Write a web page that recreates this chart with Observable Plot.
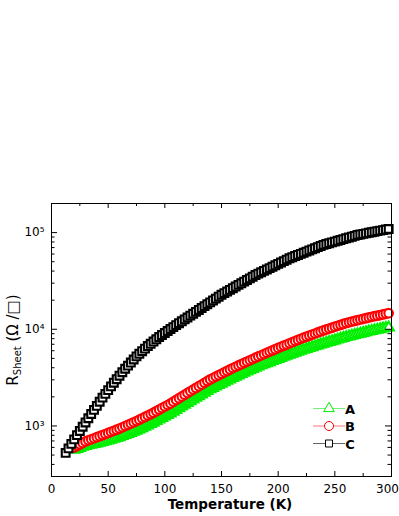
<!DOCTYPE html>
<html>
<head>
<meta charset="utf-8">
<script src="https://cdn.jsdelivr.net/npm/d3@7"></script>
<script src="https://cdn.jsdelivr.net/npm/@observablehq/plot@0.6"></script>
<style>
html,body{margin:0;padding:0;background:#fff;}
#chart svg{display:block;}
</style>
</head>
<body>
<div id="chart"></div>
<script>
// Temperature (K) of each sample
const temperatureK = [12.5,15,17.5,20,22.5,25,27.5,30,32.5,35,37.5,40,42.5,45,47.5,50,52.5,55,57.5,60,62.5,65,67.5,70,72.5,75,77.5,80,82.5,85,87.5,90,92.5,95,97.5,100,102.5,105,107.5,110,112.5,115,117.5,120,122.5,125,127.5,130,132.5,135,137.5,140,142.5,145,147.5,150,152.5,155,157.5,160,162.5,165,167.5,170,172.5,175,177.5,180,182.5,185,187.5,190,192.5,195,197.5,200,202.5,205,207.5,210,212.5,215,217.5,220,222.5,225,227.5,230,232.5,235,237.5,240,242.5,245,247.5,250,252.5,255,257.5,260,262.5,265,267.5,270,272.5,275,277.5,280,282.5,285,287.5,290,292.5,295,297.5];

// Sheet resistance (Ohm/sq) of each sample
const rSheetA = [null,null,null,566,579,593,608,622,630,639,649,659,669,681,694,707,722,736,751,766,786,806,826,847,869,892,919,947,979,1012,1046,1081,1122,1164,1208,1253,1300,1349,1406,1466,1528,1592,1660,1730,1802,1876,1953,2033,2117,2204,2295,2390,2472,2557,2645,2736,2830,2928,3028,3133,3231,3332,3437,3544,3656,3770,3888,4010,4128,4249,4354,4462,4571,4690,4811,4941,5060,5187,5313,5445,5577,5719,5855,6003,6125,6258,6392,6524,6664,6808,6953,7105,7236,7379,7518,7665,7817,7981,8139,8308,8429,8570,8714,8860,9008,9159,9314,9469,9605,9743,9881,10020,10170,10310,10460];

const rSheetB = [null,null,null,600,622,645,668,692,710,728,746,765,784,804,825,847,870,892,916,940,968,998,1028,1059,1091,1123,1161,1201,1241,1283,1326,1372,1423,1476,1531,1589,1648,1710,1782,1858,1937,2020,2105,2194,2285,2379,2476,2578,2684,2795,2910,3030,3134,3242,3354,3469,3588,3712,3839,3972,4096,4224,4357,4494,4634,4779,4929,5084,5233,5387,5547,5710,5878,6053,6231,6415,6593,6775,6962,7155,7353,7557,7766,7981,8182,8389,8600,8818,9040,9268,9502,9743,9958,10180,10400,10640,10870,11110,11360,11610,11810,12010,12210,12410,12620,12830,13040,13260,13450,13650,13840,14040,14240,14450,14660];

const rSheetC = [527,586,652,726,803,888,982,1087,1202,1330,1466,1615,1781,1963,2145,2345,2564,2802,3045,3308,3595,3906,4204,4526,4870,5243,5577,5933,6310,6710,7079,7468,7878,8310,8714,9138,9581,10050,10530,11050,11560,12090,12650,13230,13850,14480,15150,15850,16580,17350,18150,18990,19860,20770,21730,22740,23640,24590,25570,26590,27660,28760,29910,31110,32350,33640,34980,36380,37610,38880,40190,41550,42950,44400,45900,47450,49050,50710,52420,54200,55640,57180,58760,60310,61910,63620,65380,67100,68880,70790,72750,74670,76100,77570,79150,80750,82300,83880,85600,87350,89030,90740,92590,94470,95700,96960,98240,99540,100800,102200,103500,104900,106200,107600,109000];

const seriesNames = ["A", "B", "C"];
const xTicks = [0, 50, 100, 150, 200, 250, 300];
const xMinorTicks = [25, 75, 125, 175, 225, 275];
const yTicks = [1000, 10000, 100000];
const yTickLabels = ["10³", "10⁴", "10⁵"];
const yMinorTicks = [400,500,600,700,800,900,2000,3000,4000,5000,6000,7000,8000,9000,20000,30000,40000,50000,60000,70000,80000,90000];
const xLabel = "Temperature (K)";

// layout & styles
const W = 399, H = 516, mT = 203, mB = 40, mL = 51, mR = 8;
const plotW = W - mL - mR, plotH = H - mT - mB;
const styles = [
  {symbol: "triangle", r: 3.8, stroke: "#00ee00", line: "#77ee77"},
  {symbol: "circle", r: 4.3, stroke: "#ff0000", line: "#ff7777"},
  {symbol: "square", r: 4.4, stroke: "#000000", line: "#666666"}
];

const rows = vals => temperatureK.map((T, i) => ({T, R: vals[i]})).filter(d => d.R != null);
const seriesData = [rows(rSheetA), rows(rSheetB), rows(rSheetC)];

const chart = Plot.plot({
  width: W,
  height: H,
  marginTop: mT,
  marginBottom: mB,
  marginLeft: mL,
  marginRight: mR,
  style: {fontFamily: "DejaVu Sans", fontSize: "12px", background: "white", color: "black"},
  x: {domain: [0, 300]},
  y: {type: "log", domain: [300, 200000]},
  marks: [
    ...seriesData.map((data, k) => Plot.dot(data, {
      x: "T", y: "R", symbol: styles[k].symbol, r: styles[k].r,
      stroke: styles[k].stroke, fill: "white", strokeWidth: 2.1
    })),
    Plot.frame({stroke: "black", strokeWidth: 1}),
    // inward ticks
    Plot.tickX(xTicks, {x: d => d, insetTop: plotH - 5, stroke: "black"}),
    Plot.tickX(xMinorTicks, {x: d => d, insetTop: plotH - 3, stroke: "black"}),
    Plot.tickX(xTicks, {x: d => d, insetBottom: plotH - 5, stroke: "black"}),
    Plot.tickX(xMinorTicks, {x: d => d, insetBottom: plotH - 3, stroke: "black"}),
    Plot.tickY(yTicks, {y: d => d, insetRight: plotW - 6, stroke: "black"}),
    Plot.tickY(yMinorTicks, {y: d => d, insetRight: plotW - 3.5, stroke: "black"}),
    Plot.tickY(yTicks, {y: d => d, insetLeft: plotW - 6, stroke: "black"}),
    Plot.tickY(yMinorTicks, {y: d => d, insetLeft: plotW - 3.5, stroke: "black"}),
    // tick labels
    Plot.axisX({anchor: "bottom", ticks: xTicks.slice(0, -1), tickSize: 0, tickPadding: 8, label: null, tickFormat: d => String(d)}),
    Plot.axisX({anchor: "bottom", ticks: xTicks.slice(-1), tickSize: 0, tickPadding: 8, label: null, dx: -4, tickFormat: d => String(d)}),
    Plot.axisY({anchor: "left", ticks: yTicks, tickSize: 0, tickPadding: 7, label: null, tickFormat: d => yTickLabels[yTicks.indexOf(d)]})
  ]
});

document.getElementById("chart").appendChild(chart);

const svg = d3.select(chart);

// x axis title
svg.append("text")
  .attr("x", 230).attr("y", 509)
  .attr("text-anchor", "middle")
  .attr("font-family", "DejaVu Sans").attr("font-weight", "bold").attr("font-size", 13.5)
  .attr("fill", "black")
  .text(xLabel);

// y axis title with subscript
const yt = svg.append("text")
  .attr("transform", "translate(18,340) rotate(-90)")
  .attr("text-anchor", "middle")
  .attr("font-family", "DejaVu Sans").attr("font-size", 15)
  .attr("fill", "black");
yt.append("tspan").text("R");
yt.append("tspan").attr("font-size", 10).attr("dy", 3).text("Sheet");
yt.append("tspan").attr("dy", -3).text(" (Ω /□)");

// legend
const lg = svg.append("g");
const legendRows = [408.5, 426, 443.5];
seriesNames.forEach((name, k) => {
  const y = legendRows[k];
  lg.append("line").attr("x1", 313).attr("x2", 345).attr("y1", y).attr("y2", y)
    .attr("stroke", styles[k].line).attr("stroke-width", 1);
  const sym = {triangle: d3.symbolTriangle, circle: d3.symbolCircle, square: d3.symbolSquare}[styles[k].symbol];
  lg.append("path")
    .attr("d", d3.symbol(sym, Math.PI * styles[k].r * styles[k].r * (k === 2 ? 0.8 : 1.1))())
    .attr("transform", `translate(329,${y})`)
    .attr("fill", "white").attr("stroke", styles[k].stroke).attr("stroke-width", 1);
  lg.append("text").attr("x", 350).attr("y", y + 5)
    .attr("font-family", "DejaVu Sans").attr("font-weight", "bold").attr("font-size", 13)
    .attr("fill", "black").text(name);
});
</script>
</body>
</html>
